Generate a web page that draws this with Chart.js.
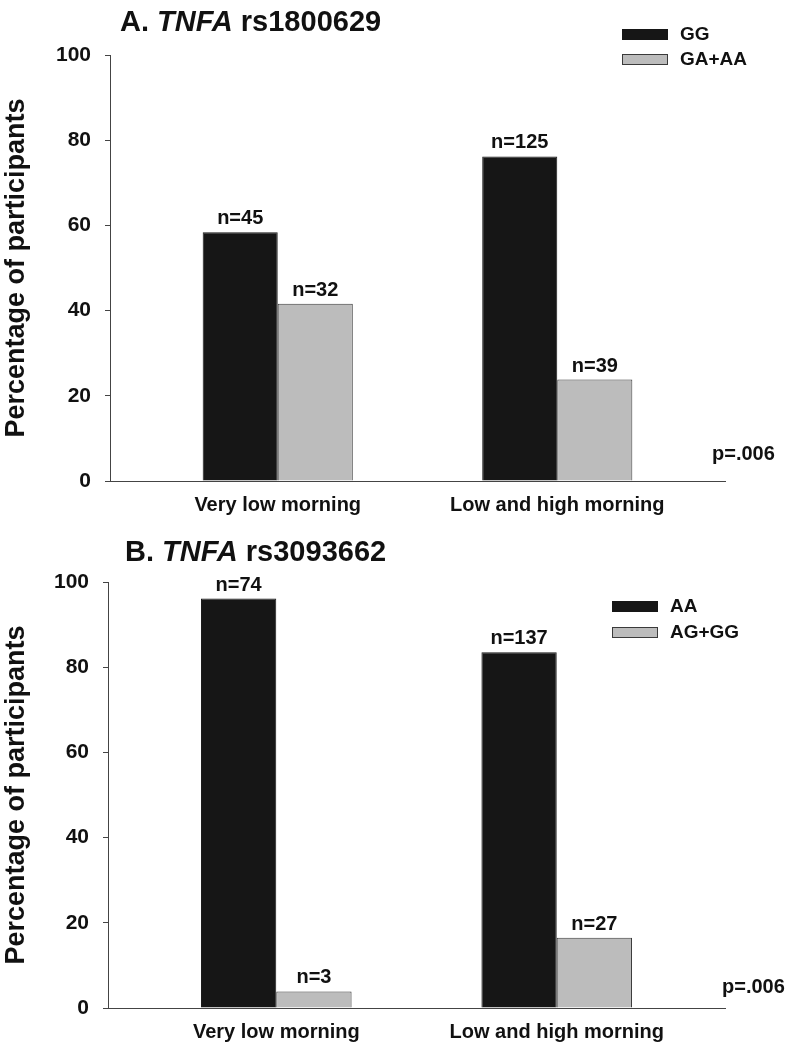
<!DOCTYPE html>
<html><head><meta charset="utf-8">
<script src="https://cdn.jsdelivr.net/npm/chart.js@4/dist/chart.umd.min.js"></script>
<style>
html,body{margin:0;padding:0;background:#fff;overflow:hidden;width:792px;height:1050px}
canvas{position:absolute;left:0}
</style></head>
<body>
<canvas id="cA" width="792" height="525" style="top:0"></canvas>
<canvas id="cB" width="792" height="525" style="top:525px"></canvas>
<script>
// ---- data ----
const categories = ['Very low morning', 'Low and high morning'];
const yTicks = [0, 20, 40, 60, 80, 100];
const yTitle = 'Percentage of participants';

const titleA = ['A. ', 'TNFA', ' rs1800629'];
const seriesA_labels = ['GG', 'GA+AA'];
const seriesA_GG = [58.4, 76.2];
const seriesA_GAAA = [41.6, 23.8];
const countsA_GG = ['n=45', 'n=125'];
const countsA_GAAA = ['n=32', 'n=39'];
const pValueA = 'p=.006';

const titleB = ['B. ', 'TNFA', ' rs3093662'];
const seriesB_labels = ['AA', 'AG+GG'];
const seriesB_AA = [96.1, 83.5];
const seriesB_AGGG = [3.9, 16.5];
const countsB_AA = ['n=74', 'n=137'];
const countsB_AGGG = ['n=3', 'n=27'];
const pValueB = 'p=.006';

// ---- drawing ----
const FONT = "'Liberation Sans', Arial, Helvetica, sans-serif";
const INK = '#111';

const decor = {
  id: 'decor',
  afterDraw(chart, args, o) {
    const ctx = chart.ctx;
    ctx.save();
    ctx.fillStyle = INK;
    // title with italic gene name
    let x = o.titleX;
    ctx.textAlign = 'left';
    ctx.textBaseline = 'alphabetic';
    o.title.forEach((t, i) => {
      ctx.font = (i === 1 ? 'italic ' : '') + 'bold 29px ' + FONT;
      ctx.fillText(t, x, o.titleY);
      x += ctx.measureText(t).width;
    });
    // counts above bars
    ctx.font = 'bold 20px ' + FONT;
    ctx.textAlign = 'center';
    chart.data.datasets.forEach((ds, di) => {
      const meta = chart.getDatasetMeta(di);
      meta.data.forEach((el, i) => {
        ctx.fillText(ds.counts[i], el.x, el.y - 8);
      });
    });
    // legend
    ctx.font = 'bold 19px ' + FONT;
    ctx.textAlign = 'left';
    ctx.textBaseline = 'middle';
    chart.data.datasets.forEach((ds, di) => {
      const y = o.legY + di * o.legStep;
      ctx.fillStyle = ds.backgroundColor;
      ctx.fillRect(o.legX, y, 46, 11);
      ctx.strokeStyle = ds.borderColor;
      ctx.lineWidth = 1;
      ctx.strokeRect(o.legX + 0.5, y + 0.5, 45, 10);
      ctx.fillStyle = INK;
      ctx.fillText(ds.label, o.legX + 58, y + 6);
    });
    // p value
    ctx.font = 'bold 20px ' + FONT;
    ctx.textBaseline = 'alphabetic';
    ctx.fillText(o.pText, o.pX, o.pY);
    ctx.restore();
  }
};

function makeChart(id, labels, s1, s2, c1, c2, opt) {
  return new Chart(document.getElementById(id), {
    type: 'bar',
    data: {
      datasets: [
        { label: labels[0], data: s1.map((v, i) => ({ x: i, y: v })), counts: c1,
          backgroundColor: '#161616', borderColor: '#161616', borderWidth: 1 },
        { label: labels[1], data: s2.map((v, i) => ({ x: i, y: v })), counts: c2,
          backgroundColor: '#bcbcbc', borderColor: '#3a3a3a', borderWidth: 1 }
      ]
    },
    options: {
      responsive: false,
      animation: false,
      layout: { padding: { top: opt.padTop, right: 67, left: 0, bottom: 0 } },
      datasets: { bar: { categoryPercentage: 0.537, barPercentage: 1 } },
      plugins: { legend: { display: false }, tooltip: { enabled: false }, decor: opt },
      scales: {
        x: {
          type: 'linear', min: -0.6, max: 1.6, offset: false,
          afterBuildTicks(s) { s.ticks = categories.map((c, i) => ({ value: i })); },
          ticks: { callback: (v) => categories[v], font: { family: FONT, size: 20, weight: 'bold' },
                   color: INK, padding: 12, maxRotation: 0, autoSkip: false },
          grid: { display: true, drawOnChartArea: false, drawTicks: false },
          border: { display: true, color: '#444', width: 1 },
          afterFit(s) { s.height = opt.axisH; }
        },
        y: {
          min: 0, max: 100,
          afterBuildTicks(s) { s.ticks = yTicks.map(v => ({ value: v })); },
          ticks: { font: { family: FONT, size: 21, weight: 'bold' }, color: INK, padding: 14 },
          grid: { display: true, drawOnChartArea: false, drawTicks: true, tickLength: 5, color: '#444' },
          border: { display: true, color: '#444', width: 1 },
          title: { display: true, text: yTitle, font: { family: FONT, size: 27, weight: 'bold' },
                   color: INK, padding: { top: 0, bottom: 0 } },
          afterFit(s) { s.width = opt.yW; }
        }
      }
    },
    plugins: [decor]
  });
}

makeChart('cA', seriesA_labels, seriesA_GG, seriesA_GAAA, countsA_GG, countsA_GAAA, {
  padTop: 55, axisH: 44, yW: 110,
  title: titleA, titleX: 120, titleY: 31,
  legX: 622, legY: 29, legStep: 25,
  pText: pValueA, pX: 712, pY: 460
});
makeChart('cB', seriesB_labels, seriesB_AA, seriesB_AGGG, countsB_AA, countsB_AGGG, {
  padTop: 57, axisH: 42, yW: 108,
  title: titleB, titleX: 125, titleY: 36,
  legX: 612, legY: 76, legStep: 26,
  pText: pValueB, pX: 722, pY: 468
});
</script>
</body></html>
